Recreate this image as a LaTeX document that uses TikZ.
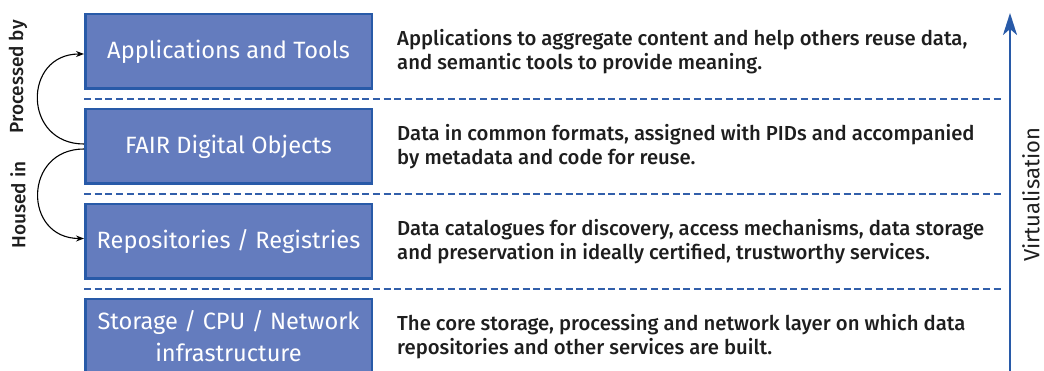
\documentclass[tikz,border=0pt]{standalone}
\usepackage{fontspec}
\setmainfont{Fira Sans}
\newfontfamily\descfont{Fira Sans Medium}
\usetikzlibrary{positioning,arrows.meta}
\definecolor{boxfill}{RGB}{100,124,190}
\definecolor{boxedge}{RGB}{40,90,168}
\definecolor{sepblue}{RGB}{50,95,170}
\definecolor{textdark}{RGB}{30,30,30}
\begin{document}
\begin{tikzpicture}[x=1pt,y=-1pt]
        \tikzstyle{layer}=[draw=boxedge, fill=boxfill, line width=2.5pt, minimum width=286.5pt, minimum height=74.5pt, inner sep=0pt, text=white, align=center, font=\fontsize{23.6}{32}\selectfont];
        \tikzstyle{desc}=[anchor=west, align=left, inner sep=0pt, text=textdark, font=\descfont\fontsize{20.3}{24}\selectfont];
        \tikzstyle{sep}=[draw=sepblue, line width=2pt, dash pattern=on 7pt off 3.7pt];
        \tikzstyle{link}=[draw=black, line width=1.1pt, -{Stealth[length=8pt,width=6pt]}];
        \tikzstyle{side}=[rotate=90, inner sep=0pt, text=textdark, font=\descfont\fontsize{19}{23}\selectfont];
        \useasboundingbox (0,0) rectangle (1044,371);
        \node[layer] (apps) at (228.5,51.5) {Applications and Tools};
        \node[layer, below=18pt of apps] (fdo) {FAIR Digital Objects};
        \node[layer, below=18pt of fdo] (repo) {Repositories / Registries};
        \node[layer, below=18pt of repo] (infra) {Storage / CPU / Network\\infrastructure};
        \node[desc, right=24pt of apps] (appsdesc) {Applications to aggregate content and help others reuse data,\\and semantic tools to provide meaning.};
        \node[desc, right=24pt of fdo] (fdodesc) {Data in common formats, assigned with PIDs and accompanied\\by metadata and code for reuse.};
        \node[desc, right=24pt of repo] (repodesc) {Data catalogues for discovery, access mechanisms, data storage\\and preservation in ideally certified, trustworthy services.};
        \node[desc, right=24pt of infra] (infradesc) {The core storage, processing and network layer on which data\\repositories and other services are built.};
        \draw[sep] ([yshift=-9pt]apps.south west) -- ++(919,0);
        \draw[sep] ([yshift=-9pt]fdo.south west) -- ++(919,0);
        \draw[sep] ([yshift=-9pt]repo.south west) -- ++(919,0);
        \coordinate (vbot) at (1010,371);
        \coordinate (vtop) at (1010,13);
        \draw[draw=boxedge, line width=2.5pt, -{Stealth[length=22pt,width=14pt,inset=6pt]}] (vbot) -- (vtop);
        \node[rotate=90, inner sep=0pt, text=textdark, font=\fontsize{22}{26}\selectfont] (virt) at (1031,195) {Virtualisation};
        \node[side] (proc) at (18,77) {Processed by};
        \node[side] (housed) at (18,205) {Housed in};
        \draw[link] ([yshift=2.5pt]fdo.west) to[out=180,in=180,looseness=1.75] ([yshift=-2.5pt]apps.west);
        \draw[link] ([yshift=-2.5pt]fdo.west) to[out=180,in=180,looseness=1.75] ([yshift=3pt]repo.west);
\end{tikzpicture}
\end{document}
